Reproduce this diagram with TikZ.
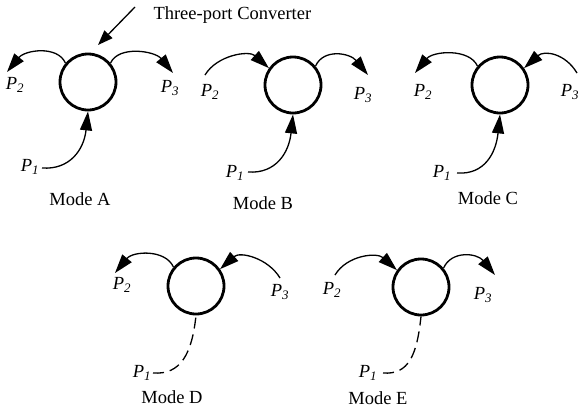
\documentclass[tikz,border=0pt]{standalone}
\usepackage{fontspec}
\setmainfont{Liberation Serif}
\usetikzlibrary{arrows.meta}

\tikzset{
  port/.style={circle, draw, line width=2.8pt, minimum size=56pt, inner sep=0pt},
  flow/.style={line width=1.3pt, -{Triangle[length=19pt,width=12pt]}},
  link/.style={line width=1.3pt, dash pattern=on 11pt off 6pt},
  pointer/.style={line width=1.3pt, -{Triangle[length=15pt,width=11pt]}},
  plabel/.style={font=\fontsize{18.5}{20}\selectfont\itshape},
  modename/.style={anchor=base},
}
\newcommand{\pp}[1]{P\textsubscript{#1}}

\begin{document}
\begin{tikzpicture}[x=1pt, y=-1pt, every node/.style={font=\fontsize{18.5}{20}\selectfont}]
    \useasboundingbox (0,0) rectangle (583,418);
    % Mode A
    \node[port] (A) at (88,82) {};
    \coordinate (A1) at (42,168);
    \coordinate (A2) at (7,72);
    \coordinate (A3) at (173,73);
    \draw[flow] (A.140) .. controls +(-8,-18) and +(18,-22) .. (A2);
    \draw[flow] (A.40) .. controls +(8,-18) and +(-18,-22) .. (A3);
    \draw[flow] (A1) .. controls +(28,2) and +(-4,38) .. (A.south);
    \node[plabel] (A1l) at (30,167) {\pp{1}};
    \node[plabel] (A2l) at (15,85) {\pp{2}};
    \node[plabel] (A3l) at (170,88) {\pp{3}};
    \node[modename] (Am) at (80,205) {Mode A};
    % label of the converter
    \node[anchor=base west] (conv) at (150,19) {Three-port Converter};
    \coordinate (cv) at (135,7);
    \coordinate (ct) at (98,45);
    \draw[pointer] (cv) -- (ct);
    % Mode B
    \node[port] (B) at (293,85) {};
    \coordinate (B1) at (248,172);
    \coordinate (B2) at (205,75);
    \coordinate (B3) at (368,75);
    \draw[flow] (B2) .. controls +(12,-20) and +(-20,-18) .. (B.145);
    \draw[flow] (B.40) .. controls +(8,-18) and +(-18,-22) .. (B3);
    \draw[flow] (B1) .. controls +(28,2) and +(-4,38) .. (B.south);
    \node[plabel] (B1l) at (235,173) {\pp{1}};
    \node[plabel] (B2l) at (210,92) {\pp{2}};
    \node[plabel] (B3l) at (363,95) {\pp{3}};
    \node[modename] (Bm) at (263,209) {Mode B};
    % Mode C
    \node[port] (C) at (500,85) {};
    \coordinate (C1) at (457,173);
    \coordinate (C2) at (415,73);
    \coordinate (C3) at (577,73);
    \draw[flow] (C.140) .. controls +(-8,-18) and +(18,-22) .. (C2);
    \draw[flow] (C3) .. controls +(-12,-20) and +(20,-18) .. (C.35);
    \draw[flow] (C1) .. controls +(28,2) and +(-4,38) .. (C.south);
    \node[plabel] (C1l) at (442,173) {\pp{1}};
    \node[plabel] (C2l) at (423,92) {\pp{2}};
    \node[plabel] (C3l) at (570,92) {\pp{3}};
    \node[modename] (Cm) at (488,204) {Mode C};
    % Mode D
    \node[port] (D) at (196,286) {};
    \coordinate (D1) at (153,373);
    \coordinate (D2) at (115,273);
    \coordinate (D3) at (280,278);
    \draw[flow] (D.140) .. controls +(-8,-18) and +(18,-22) .. (D2);
    \draw[flow] (D3) .. controls +(-12,-20) and +(20,-18) .. (D.35);
    \draw[link] (D1) .. controls +(28,2) and +(-4,38) .. (D.south);
    \node[plabel] (D1l) at (142,373) {\pp{1}};
    \node[plabel] (D2l) at (122,285) {\pp{2}};
    \node[plabel] (D3l) at (280,292) {\pp{3}};
    \node[modename] (Dm) at (172,403) {Mode D};
    % Mode E
    \node[port] (E) at (421,287) {};
    \coordinate (E1) at (383,373);
    \coordinate (E2) at (335,275);
    \coordinate (E3) at (495,275);
    \draw[flow] (E2) .. controls +(12,-20) and +(-20,-18) .. (E.145);
    \draw[flow] (E.40) .. controls +(8,-18) and +(-18,-22) .. (E3);
    \draw[link] (E1) .. controls +(26,2) and +(-4,38) .. (E.south);
    \node[plabel] (E1l) at (368,373) {\pp{1}};
    \node[plabel] (E2l) at (332,290) {\pp{2}};
    \node[plabel] (E3l) at (483,295) {\pp{3}};
    \node[modename] (Em) at (378,404) {Mode E};
\end{tikzpicture}
\end{document}
